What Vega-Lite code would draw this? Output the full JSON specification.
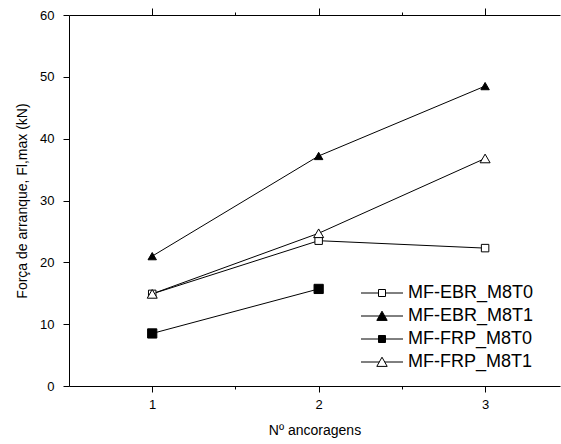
{
  "$schema": "https://vega.github.io/schema/vega-lite/v6.json",
  "width": 491,
  "height": 371,
  "autosize": {"type": "none"},
  "padding": {"left": 69, "top": 15, "right": 1, "bottom": 58},
  "background": "white",
  "config": {
    "view": {"stroke": null},
    "font": "Liberation Sans",
    "axis": {
      "domainColor": "black",
      "domainWidth": 1,
      "tickColor": "black",
      "tickWidth": 1,
      "labelColor": "black",
      "labelFont": "Liberation Sans",
      "labelFontSize": 13,
      "titleFont": "Liberation Sans",
      "titleFontSize": 14,
      "titleFontWeight": "normal",
      "titleColor": "black",
      "grid": false
    },
    "legend": {
      "padding": 0,
      "rowPadding": 5,
      "labelFont": "Liberation Sans",
      "labelFontSize": 18,
      "labelColor": "black",
      "labelOffset": 17,
      "symbolSize": 64,
      "symbolStrokeColor": "black",
      "symbolStrokeWidth": 1
    }
  },
  "data": {
    "values": [
      {"series": "MF-EBR_M8T0", "n": 1, "force": 14.9},
      {"series": "MF-EBR_M8T0", "n": 2, "force": 23.5},
      {"series": "MF-EBR_M8T0", "n": 3, "force": 22.3},
      {"series": "MF-EBR_M8T1", "n": 1, "force": 21.0},
      {"series": "MF-EBR_M8T1", "n": 2, "force": 37.2},
      {"series": "MF-EBR_M8T1", "n": 3, "force": 48.5},
      {"series": "MF-FRP_M8T0", "n": 1, "force": 8.5},
      {"series": "MF-FRP_M8T0", "n": 2, "force": 15.7},
      {"series": "MF-FRP_M8T1", "n": 1, "force": 14.9},
      {"series": "MF-FRP_M8T1", "n": 2, "force": 24.7},
      {"series": "MF-FRP_M8T1", "n": 3, "force": 36.8}
    ]
  },
  "layer": [
    {
      "mark": {"type": "line", "stroke": "black", "strokeWidth": 1},
      "encoding": {
        "x": {
          "field": "n", "type": "quantitative",
          "scale": {"domain": [0.5, 3.45], "nice": false, "zero": false},
          "axis": {
            "orient": "bottom",
            "title": "Nº ancoragens",
            "values": [1, 1.5, 2, 2.5, 3],
            "format": ".0f",
            "labelExpr": "datum.value % 1 === 0 ? datum.label : ''",
            "tickSize": {"condition": {"test": "datum.value % 1 === 0", "value": 6}, "value": 3},
            "labelPadding": 6,
            "titlePadding": 12
          }
        },
        "y": {
          "field": "force", "type": "quantitative",
          "scale": {"domain": [0, 60], "nice": false},
          "axis": {
            "title": "Força de arranque, Fl,max (kN)",
            "values": [0, 5, 10, 15, 20, 25, 30, 35, 40, 45, 50, 55, 60],
            "labelExpr": "datum.value % 10 === 0 ? datum.label : ''",
            "tickSize": {"condition": {"test": "datum.value % 10 === 0", "value": 6}, "value": 3},
            "labelPadding": 9,
            "titlePadding": 10
          }
        },
        "detail": {"field": "series"}
      }
    },
    {
      "mark": {"type": "point", "filled": true, "stroke": "black", "strokeWidth": 1, "opacity": 1},
      "encoding": {
        "x": {
          "field": "n", "type": "quantitative",
          "axis": {
            "orient": "top",
            "title": null,
            "labels": false,
            "values": [1, 1.5, 2, 2.5, 3],
            "tickSize": {"condition": {"test": "datum.value % 1 === 0", "value": 7}, "value": 3}
          }
        },
        "y": {"field": "force", "type": "quantitative"},
        "shape": {
          "field": "series", "type": "nominal",
          "scale": {
            "domain": ["MF-EBR_M8T0", "MF-EBR_M8T1", "MF-FRP_M8T0", "MF-FRP_M8T1"],
            "range": ["square", "triangle-up", "square", "triangle-up"]
          },
          "legend": null
        },
        "fill": {
          "field": "series", "type": "nominal",
          "scale": {
            "domain": ["MF-EBR_M8T0", "MF-EBR_M8T1", "MF-FRP_M8T0", "MF-FRP_M8T1"],
            "range": ["white", "black", "black", "white"]
          },
          "legend": null
        },
        "size": {
          "field": "series", "type": "nominal",
          "scale": {
            "domain": ["MF-EBR_M8T0", "MF-EBR_M8T1", "MF-FRP_M8T0", "MF-FRP_M8T1"],
            "range": [56, 100, 56, 100]
          },
          "legend": null
        }
      }
    },
    {
      "transform": [{"filter": "false"}],
      "mark": {"type": "point", "filled": true, "strokeWidth": 1, "opacity": 1, "size": 64},
      "encoding": {
        "x": {"field": "n", "type": "quantitative", "axis": null},
        "y": {"field": "force", "type": "quantitative"},
        "shape": {
          "field": "series", "type": "nominal",
          "scale": {
            "domain": ["MF-EBR_M8T0", "MF-EBR_M8T1", "MF-FRP_M8T0", "MF-FRP_M8T1"],
            "range": [
              "M-5.25,0H-0.875M-0.875,-0.875H0.875V0.875H-0.875ZM0.875,0H5.25",
              "M-5.25,0H-0.7M-1.3,1.1L0,-1.2L1.3,1.1ZM0.7,0H5.25",
              "M-5.25,0H-0.875M-0.875,-0.875H0.875V0.875H-0.875ZM0.875,0H5.25",
              "M-5.25,0H-0.7M-1.3,1.1L0,-1.2L1.3,1.1ZM0.7,0H5.25"
            ]
          },
          "legend": {"title": null, "orient": "none", "legendX": 304, "legendY": 269}
        },
        "fill": {
          "field": "series", "type": "nominal",
          "scale": {
            "domain": ["MF-EBR_M8T0", "MF-EBR_M8T1", "MF-FRP_M8T0", "MF-FRP_M8T1"],
            "range": ["white", "black", "black", "white"]
          },
          "legend": {"title": null, "orient": "none", "legendX": 304, "legendY": 269}
        },
        "stroke": {
          "field": "series", "type": "nominal",
          "scale": {
            "domain": ["MF-EBR_M8T0", "MF-EBR_M8T1", "MF-FRP_M8T0", "MF-FRP_M8T1"],
            "range": ["black", "black", "black", "black"]
          },
          "legend": {"title": null, "orient": "none", "legendX": 304, "legendY": 269}
        }
      }
    }
  ],
  "resolve": {"axis": {"x": "independent"}, "scale": {"shape": "independent", "fill": "independent", "size": "independent", "stroke": "independent"}}
}
